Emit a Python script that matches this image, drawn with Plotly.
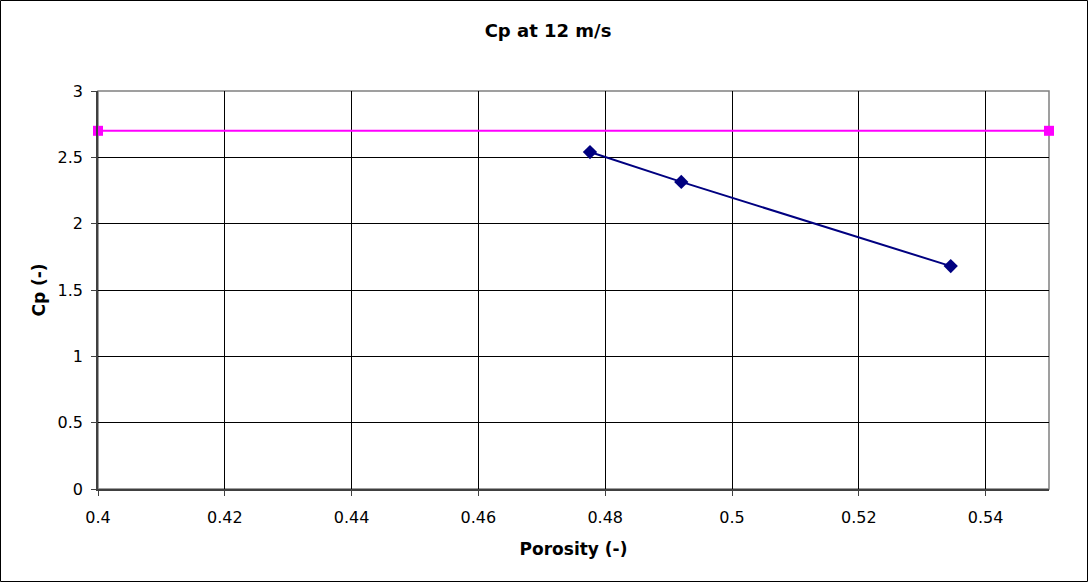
import plotly.graph_objects as go

# Measured Cp against porosity at 12 m/s
porosity = [0.4776, 0.4920, 0.5345]
cp = [2.54, 2.315, 1.68]

# Reference Cp level
ref_x = [0.40, 0.55]
ref_cp = [2.7, 2.7]

x_ticks = [0.4, 0.42, 0.44, 0.46, 0.48, 0.5, 0.52, 0.54]
x_tick_text = ["0.4", "0.42", "0.44", "0.46", "0.48", "0.5", "0.52", "0.54"]
y_ticks = [0, 0.5, 1, 1.5, 2, 2.5, 3]
y_tick_text = ["0", "0.5", "1", "1.5", "2", "2.5", "3"]

W, H = 1088, 582
ML, MR, MT, MB = 98, 39, 91, 93
PW, PH = W - ML - MR, H - MT - MB

font = "DejaVu Sans, Verdana, sans-serif"

fig = go.Figure()
fig.add_trace(go.Scatter(
    x=ref_x, y=ref_cp, mode="lines+markers",
    line=dict(color="#FF00FF", width=2),
    marker=dict(symbol="square", size=10, color="#FF00FF"),
    cliponaxis=False, showlegend=False,
))
fig.add_trace(go.Scatter(
    x=porosity, y=cp, mode="lines+markers",
    line=dict(color="#000080", width=2),
    marker=dict(symbol="diamond", size=11, color="#000080"),
    cliponaxis=False, showlegend=False,
))

axis_common = dict(
    showgrid=True, gridcolor="#000000", gridwidth=1,
    zeroline=False, showline=True, linecolor="#404040", linewidth=1.5,
    ticks="outside", ticklen=5, tickcolor="#404040",
    tickfont=dict(family=font, size=16, color="#000000"),
)

fig.update_layout(
    width=W, height=H,
    margin=dict(l=ML, r=MR, t=MT, b=MB),
    paper_bgcolor="white", plot_bgcolor="white",
    title=dict(text="<b>Cp at 12 m/s</b>", x=(548 - ML) / PW, xref="paper",
               xanchor="center", y=1 - 31 / H, yanchor="middle",
               font=dict(family=font, size=18, color="#000000")),
    xaxis=dict(range=[0.4, 0.55], tickvals=x_ticks, ticktext=x_tick_text,
               ticklabelstandoff=8,
               title=dict(text="<b>Porosity (-)</b>", standoff=17,
                          font=dict(family=font, size=17, color="#000000")),
               **axis_common),
    yaxis=dict(range=[0, 3], tickvals=y_ticks, ticktext=y_tick_text,
               ticklabelstandoff=5,
               title=dict(text="<b>Cp (-)</b>", standoff=8,
                          font=dict(family=font, size=17, color="#000000")),
               **axis_common),
    shapes=[
        # plot-area frame on top and right
        dict(type="rect", xref="paper", yref="paper", x0=0, x1=1, y0=0, y1=1,
             line=dict(color="#808080", width=1.5), layer="below"),
        # outer chart border
        dict(type="rect", xref="paper", yref="paper",
             x0=(0.5 - ML) / PW, x1=(W - 0.5 - ML) / PW,
             y0=-(H - 0.5 - MT - PH) / PH, y1=1 + (MT - 0.5) / PH,
             line=dict(color="#000000", width=1)),
    ],
)

fig.write_html("out.html")
